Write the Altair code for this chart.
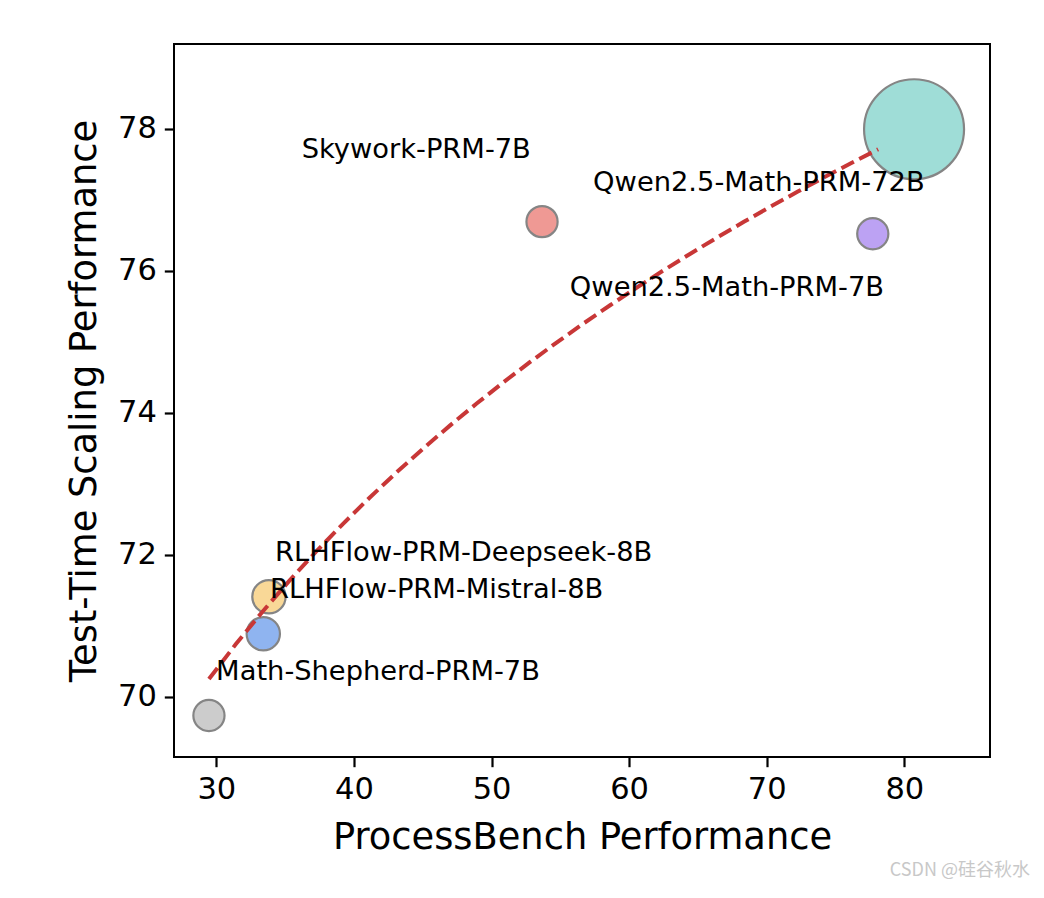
import altair as alt
import pandas as pd

models = [
    "Math-Shepherd-PRM-7B",
    "RLHFlow-PRM-Mistral-8B",
    "RLHFlow-PRM-Deepseek-8B",
    "Skywork-PRM-7B",
    "Qwen2.5-Math-PRM-7B",
    "Qwen2.5-Math-PRM-72B",
]
processbench = [29.46, 33.41, 33.82, 53.67, 77.71, 80.71]
tts = [69.74, 70.89, 71.41, 76.69, 76.52, 77.99]
params_b = [7, 8, 8, 7, 7, 72]
fills = ["#cccccc", "#8fb4f0", "#f9d897", "#ef9994", "#bca2f3", "#9fddd7"]
label_x = [29.98, 33.9, 34.27, 36.2, 55.69, 57.38]
label_y = [70.35, 71.51, 72.02, 77.70, 75.76, 77.23]
x_ticks = [30, 40, 50, 60, 70, 80]
y_ticks = [70, 72, 74, 76, 78]

df = pd.DataFrame({
    "model": models,
    "pb": processbench,
    "tts": tts,
    "params": params_b,
    "lx": label_x,
    "ly": label_y,
})

xs = alt.Scale(domain=[26.92, 86.23], nice=False, zero=False)
ys = alt.Scale(domain=[69.155, 79.19], nice=False, zero=False)
XT = "ProcessBench Performance"
YT = "Test-Time Scaling Performance"
xax = alt.Axis(values=x_ticks, grid=False, title=XT)
yax = alt.Axis(values=y_ticks, grid=False, title=YT)

base = alt.Chart(df)

points = base.mark_circle(opacity=1).encode(
    x=alt.X("pb:Q", scale=xs, axis=xax, title=XT),
    y=alt.Y("tts:Q", scale=ys, axis=yax, title=YT),
    size=alt.Size("params:Q", scale=alt.Scale(domain=[0, 72], range=[0, 10000]), legend=None),
    fill=alt.Fill("model:N", scale=alt.Scale(domain=models, range=fills), legend=None),
    stroke=alt.value("#858585"),
    strokeWidth=alt.value(2.2),
)

trend = base.transform_regression(
    "pb", "tts", method="log", extent=[29.46, 78.1]
).mark_line(color="#c83737", strokeDash=[14, 6], strokeWidth=4).encode(
    x=alt.X("pb:Q", scale=xs, axis=xax, title=XT),
    y=alt.Y("tts:Q", scale=ys, axis=yax, title=YT),
)

labels = base.mark_text(
    align="left", baseline="middle", font="DejaVu Sans", fontSize=27.3, color="black"
).encode(
    x=alt.X("lx:Q", scale=xs, axis=xax, title=XT),
    y=alt.Y("ly:Q", scale=ys, axis=yax, title=YT),
    text="model:N",
)

chart = alt.layer(points, trend, labels).properties(
    width=816,
    height=713,
    autosize=alt.AutoSizeParams(type="none"),
    padding={"left": 166, "top": 36, "right": 46, "bottom": 128},
    title=alt.TitleParams(
        "CSDN @硅谷秋水",
        orient="bottom",
        anchor="end",
        font="Noto Sans CJK SC",
        fontSize=18,
        fontWeight="normal",
        color="#c8c8c8",
        dx=40,
        offset=6,
    ),
).configure_view(
    stroke="black", strokeWidth=2
).configure_axis(
    domain=False,
    tickColor="black",
    tickSize=9.7,
    tickWidth=2.2,
    labelFont="DejaVu Sans",
    labelFontSize=30.5,
    labelColor="black",
    labelPadding=8,
    titleFont="DejaVu Sans",
    titleFontSize=36.8,
    titleFontWeight="normal",
    titleColor="black",
).configure_axisX(titlePadding=14).configure_axisY(titlePadding=14)

chart.save("out.html", embed_options={"renderer": "svg", "actions": False})
